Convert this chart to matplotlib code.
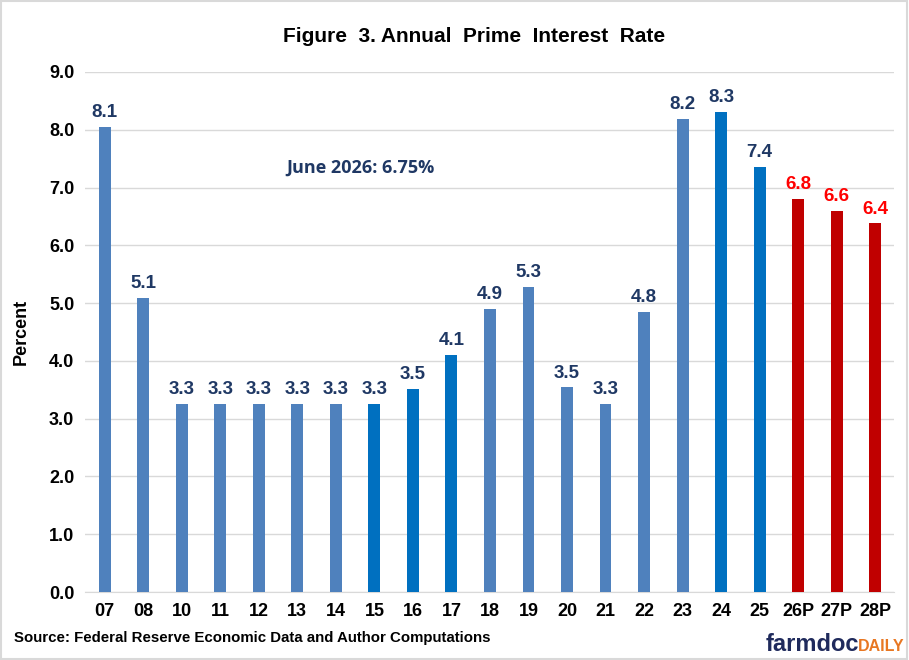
import matplotlib.pyplot as plt
import matplotlib as mpl

years = ['07', '08', '10', '11', '12', '13', '14', '15', '16', '17', '18',
         '19', '20', '21', '22', '23', '24', '25', '26P', '27P', '28P']
rates = [8.05, 5.09, 3.25, 3.25, 3.25, 3.25, 3.25, 3.26, 3.51, 4.10, 4.90,
         5.28, 3.54, 3.25, 4.85, 8.19, 8.31, 7.36, 6.80, 6.59, 6.38]
labels = ['8.1', '5.1', '3.3', '3.3', '3.3', '3.3', '3.3', '3.3', '3.5', '4.1',
          '4.9', '5.3', '3.5', '3.3', '4.8', '8.2', '8.3', '7.4', '6.8', '6.6',
          '6.4']
# 0 = steel blue, 1 = bright blue, 2 = projection red
kind = [0, 0, 0, 0, 0, 0, 0, 1, 1, 1, 0, 0, 0, 0, 0, 0, 1, 1, 2, 2, 2]

bar_colors = {0: '#4F81BD', 1: '#0070C0', 2: '#C00000'}
label_colors = {0: '#1F3864', 1: '#1F3864', 2: '#FF0000'}
font = 'Liberation Sans'

fig = plt.figure(figsize=(9.09, 6.6), dpi=100)
ax = fig.add_axes([0.094, 0.103, 0.890, 0.788])

x = range(len(years))
ax.bar(x, rates, width=0.31, color=[bar_colors[k] for k in kind], zorder=3)
for i, (v, lab) in enumerate(zip(rates, labels)):
    ax.text(i, v + 0.1, lab, ha='center', va='bottom', fontsize=13.5,
            fontweight='bold', color=label_colors[kind[i]],
            family=font, zorder=4)

ax.set_xlim(-0.5, len(years) - 0.5)
ax.set_ylim(0, 9)
ax.set_yticks([i * 1.0 for i in range(10)])
ax.set_yticklabels([f'{i:.1f}' for i in range(10)], fontsize=13,
                   fontweight='bold', family=font)
ax.set_xticks(list(x))
ax.set_xticklabels(years, fontsize=13, fontweight='bold', family=font)
ax.tick_params(axis='both', length=0, pad=8)
ax.yaxis.grid(True, color='#D9D9D9', linewidth=1, zorder=0)
for s in ['left', 'right', 'top']:
    ax.spines[s].set_visible(False)
ax.spines['bottom'].set_color('#D9D9D9')
ax.set_ylabel('Percent', fontsize=13, fontweight='bold', family=font,
              labelpad=14)

ax.text(6.63, 7.34, 'June 2026: 6.75%', fontsize=13, fontweight='bold',
        color='#1F3864', family='Open Sans', ha='center', va='center')

fig.text(0.522, 0.944, 'Figure  3. Annual  Prime  Interest  Rate',
         ha='center', va='center', fontsize=15, fontweight='bold', family=font)
fig.text(0.015, 0.022, 'Source: Federal Reserve Economic Data and Author Computations',
         fontsize=10.8, fontweight='bold', family=font, va='bottom')
fig.text(0.842, 0.014, 'farmdoc', fontsize=17, fontweight='bold',
         color='#1F2A5C', family=font, va='baseline')
fig.text(0.944, 0.014, 'DAILY', fontsize=11.5, fontweight='bold',
         color='#E87722', family=font, va='baseline')

fig.patches.append(mpl.patches.Rectangle((0.001, 0.001), 0.997, 0.997,
                                         transform=fig.transFigure, fill=False,
                                         edgecolor='#D9D9D9', linewidth=1.5))

fig.savefig('out.png', dpi=100)
